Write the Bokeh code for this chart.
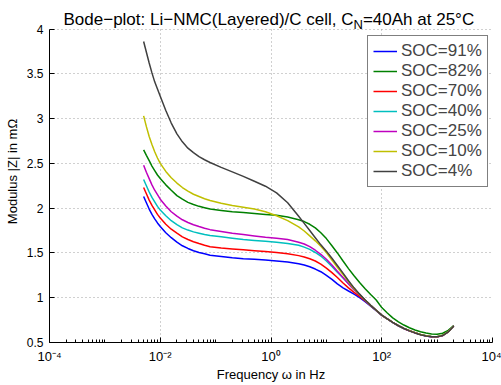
from bokeh.plotting import figure
from bokeh.models import (FixedTicker, CustomJSTickFormatter, Legend, LegendItem,
                          Label, Range1d, BoxAnnotation)
from bokeh.embed import file_html
from bokeh.resources import INLINE

# ---------------- data ----------------
freq_hz = [0.00501, 0.00562, 0.00631, 0.00708, 0.00794, 0.00891, 0.01, 0.0126,
           0.0158, 0.02, 0.0251, 0.0316, 0.0398, 0.0501, 0.0631, 0.0794, 0.126,
           0.2, 0.316, 0.501, 0.794, 1.26, 2.0, 3.16, 3.98, 5.01, 6.31, 7.94,
           10.0, 12.6, 15.8, 20.0, 25.1, 31.6, 39.8, 50.1, 63.1, 79.4, 100.0,
           126.0, 158.0, 200.0, 251.0, 316.0, 398.0, 501.0, 631.0, 794.0,
           1000.0, 1259.0, 1585.0, 1995.0]

soc_labels = ["SOC=91%", "SOC=82%", "SOC=70%", "SOC=40%", "SOC=25%", "SOC=10%", "SOC=4%"]

z_soc91 = [2.13, 2.06, 1.99, 1.93, 1.88, 1.835, 1.795, 1.725, 1.67, 1.62, 1.58,
           1.55, 1.525, 1.505, 1.49, 1.475, 1.46, 1.445, 1.435, 1.43, 1.42, 1.41,
           1.40, 1.38, 1.365, 1.345, 1.32, 1.29, 1.25, 1.205, 1.155, 1.11, 1.075,
           1.04, 1.0, 0.955,
           0.905, 0.855, 0.802, 0.763, 0.723, 0.686, 0.656, 0.63, 0.608, 0.588,
           0.573, 0.565, 0.564, 0.579, 0.618, 0.684]
z_soc82 = [2.65, 2.59, 2.53, 2.47, 2.42, 2.37, 2.33, 2.26, 2.20, 2.14, 2.10,
           2.065, 2.04, 2.02, 2.005, 1.99, 1.975, 1.96, 1.95, 1.94, 1.93, 1.92,
           1.90, 1.87, 1.85, 1.82, 1.78, 1.725, 1.66, 1.58, 1.50, 1.41, 1.325,
           1.245, 1.17, 1.10,
           1.035, 0.975, 0.89, 0.83, 0.775, 0.73, 0.695, 0.665, 0.64, 0.62,
           0.605, 0.595, 0.592, 0.603, 0.635, 0.69]
z_soc70 = [2.23, 2.16, 2.09, 2.03, 1.98, 1.93, 1.89, 1.82, 1.765, 1.72, 1.68,
           1.65, 1.625, 1.605, 1.585, 1.57, 1.555, 1.545, 1.535, 1.525, 1.515, 1.505,
           1.49, 1.47, 1.455, 1.435, 1.41, 1.375, 1.33, 1.28, 1.225, 1.165, 1.11,
           1.06, 1.015, 0.965,
           0.912, 0.858, 0.804, 0.764, 0.724, 0.687, 0.657, 0.631, 0.609, 0.589,
           0.574, 0.565, 0.564, 0.579, 0.619, 0.684]
z_soc40 = [2.32, 2.25, 2.18, 2.12, 2.07, 2.02, 1.98, 1.915, 1.86, 1.815, 1.78,
           1.755, 1.735, 1.72, 1.705, 1.695, 1.68, 1.665, 1.65, 1.64, 1.63, 1.62,
           1.605, 1.585, 1.565, 1.54, 1.505, 1.465, 1.41, 1.35, 1.285, 1.22, 1.155,
           1.09, 1.035, 0.975,
           0.915, 0.86, 0.805, 0.765, 0.725, 0.688, 0.658, 0.632, 0.61, 0.59,
           0.575, 0.566, 0.565, 0.58, 0.62, 0.685]
z_soc25 = [2.48, 2.40, 2.33, 2.26, 2.20, 2.15, 2.10, 2.025, 1.96, 1.91, 1.87,
           1.84, 1.815, 1.795, 1.775, 1.76, 1.74, 1.72, 1.705, 1.69, 1.675, 1.665,
           1.65, 1.62, 1.60, 1.57, 1.53, 1.485, 1.43, 1.365, 1.295, 1.225, 1.155,
           1.09, 1.035, 0.975,
           0.915, 0.86, 0.805, 0.765, 0.725, 0.688, 0.657, 0.631, 0.608, 0.588,
           0.572, 0.563, 0.562, 0.578, 0.619, 0.685]
z_soc10 = [3.03, 2.91, 2.80, 2.71, 2.63, 2.56, 2.50, 2.41, 2.34, 2.28, 2.23,
           2.19, 2.155, 2.13, 2.105, 2.085, 2.055, 2.03, 2.01, 1.99, 1.96, 1.915,
           1.86, 1.79, 1.745, 1.69, 1.635, 1.575, 1.505, 1.42, 1.34, 1.26, 1.18,
           1.10, 1.035, 0.975,
           0.915, 0.86, 0.805, 0.765, 0.725, 0.688, 0.658, 0.632, 0.61, 0.59,
           0.575, 0.566, 0.565, 0.58, 0.62, 0.685]
z_soc4 = [3.86, 3.74, 3.62, 3.51, 3.41, 3.33, 3.25, 3.09, 2.95, 2.83, 2.74,
          2.67, 2.62, 2.575, 2.54, 2.51, 2.455, 2.405, 2.355, 2.30, 2.245, 2.17,
          2.06, 1.91, 1.83, 1.75, 1.67, 1.59, 1.52, 1.44, 1.36, 1.275, 1.19,
          1.11, 1.04, 0.975,
          0.915, 0.86, 0.805, 0.764, 0.724, 0.687, 0.656, 0.63, 0.607, 0.587,
          0.572, 0.563, 0.563, 0.578, 0.618, 0.684]

series = [z_soc91, z_soc82, z_soc70, z_soc40, z_soc25, z_soc10, z_soc4]
colors = ["#0000ff", "#008000", "#ff0000", "#00bfbf", "#bf00bf", "#bfbf00", "#404040"]

x_major = [1e-4, 1e-2, 1e0, 1e2, 1e4]
y_major = [0.5, 1.0, 1.5, 2.0, 2.5, 3.0, 3.5, 4.0]
Y_MIN, Y_MAX = 0.5, 4.0

FONT = "Liberation Sans"

# ---------------- figure ----------------
# The frame reaches the top of the canvas so that the title (drawn as Labels,
# with a subscript) is not clipped; the region above y=4 is painted white.
FRAME_H = 342
PLOT_H = 313.5                       # pixels between y=0.5 and y=4
y_top = Y_MIN + (Y_MAX - Y_MIN) * FRAME_H / PLOT_H

p = figure(frame_width=443, frame_height=FRAME_H, x_axis_type="log",
           x_range=Range1d(1e-4, 1e4), y_range=Range1d(Y_MIN, y_top),
           output_backend="svg", toolbar_location=None, title=None,
           min_border_left=49, min_border_right=9, min_border_top=0,
           min_border_bottom=43)
p.outline_line_color = None
p.background_fill_color = "white"
p.border_fill_color = "white"

x_minor = [m * 10.0 ** e for e in range(-4, 4) for m in range(1, 10)]
p.xaxis.ticker = FixedTicker(ticks=x_major, minor_ticks=x_minor)
p.yaxis.ticker = FixedTicker(ticks=y_major)
p.yaxis.bounds = (Y_MIN, Y_MAX)

p.xaxis.formatter = CustomJSTickFormatter(code="""
const e = Math.round(Math.log10(tick));
const sup = {'-':'\u207b','0':'\u2070','1':'\u00b9','2':'\u00b2','3':'\u00b3','4':'\u2074'};
return '10' + String(e).split('').map(c => sup[c]).join('');
""")
p.yaxis.formatter = CustomJSTickFormatter(code="return String(Math.round(tick*10)/10);")

for ax in (p.xaxis, p.yaxis):
    ax.axis_line_color = "black"
    ax.axis_line_width = 1
    ax.major_tick_in = 5
    ax.major_tick_out = 0
    ax.major_tick_line_color = "black"
    ax.major_label_text_font = FONT
    ax.major_label_text_color = "black"
    ax.axis_label_text_font = FONT
    ax.axis_label_text_font_size = "13px"
    ax.axis_label_text_font_style = "normal"
    ax.axis_label_text_color = "black"

p.xaxis.major_label_text_font_size = "13px"
p.yaxis.major_label_text_font_size = "12px"
p.xaxis.minor_tick_in = 3
p.xaxis.minor_tick_out = 0
p.xaxis.minor_tick_line_color = "black"
p.yaxis.minor_tick_line_color = None
p.xaxis.major_label_standoff = 6
p.yaxis.major_label_standoff = 6
p.xaxis.axis_label_standoff = 0
p.yaxis.axis_label_standoff = 4
p.xaxis.axis_label = "Frequency \u03c9 in Hz"
p.yaxis.axis_label = "Modulus |Z| in m\u03a9"

for g in (p.xgrid, p.ygrid):
    g.grid_line_color = "#a0a0a0"
    g.grid_line_dash = "1 3"
    g.grid_line_width = 1

items = []
for lab, vals, col in zip(soc_labels, series, colors):
    r = p.line(freq_hz, vals, line_color=col, line_width=1.5)
    items.append(LegendItem(label=lab, renderers=[r]))

# white cover above the top of the axes (hides the grid there)
p.add_layout(BoxAnnotation(bottom=Y_MAX + 0.01, fill_color="white", fill_alpha=1.0,
                           line_alpha=0.0))

legend = Legend(items=items, location=(318, 155))
legend.border_line_color = "black"
legend.border_line_width = 1
legend.background_fill_color = "white"
legend.background_fill_alpha = 1.0
legend.label_text_font = FONT
legend.label_text_font_size = "17px"
legend.glyph_width = 24
legend.glyph_height = 20
legend.label_height = 20
legend.label_standoff = 4
legend.spacing = 0
legend.padding = 5
legend.margin = 0
p.add_layout(legend)

# ---------------- title with subscript ----------------
title_main = "Bode\u2212plot: Li\u2212NMC(Layered)/C cell, C"
title_sub = "N"
title_tail = "=40Ah at 25\u00b0C"
TF = 17
SF = 13
w_main = 17.061 * TF
x0 = 14
y0 = 322.7
p.add_layout(Label(x=x0, y=y0, x_units="screen", y_units="screen", text=title_main,
                   text_font=FONT, text_font_size=f"{TF}px", text_baseline="alphabetic",
                   text_align="left", text_color="black"))
p.add_layout(Label(x=x0 + w_main, y=y0 - 5, x_units="screen", y_units="screen", text=title_sub,
                   text_font=FONT, text_font_size=f"{SF}px", text_baseline="alphabetic",
                   text_align="left", text_color="black"))
p.add_layout(Label(x=x0 + w_main + 0.722 * SF, y=y0, x_units="screen", y_units="screen",
                   text=title_tail, text_font=FONT, text_font_size=f"{TF}px",
                   text_baseline="alphabetic", text_align="left", text_color="black"))

open("out.html", "w").write(file_html(p, INLINE))
